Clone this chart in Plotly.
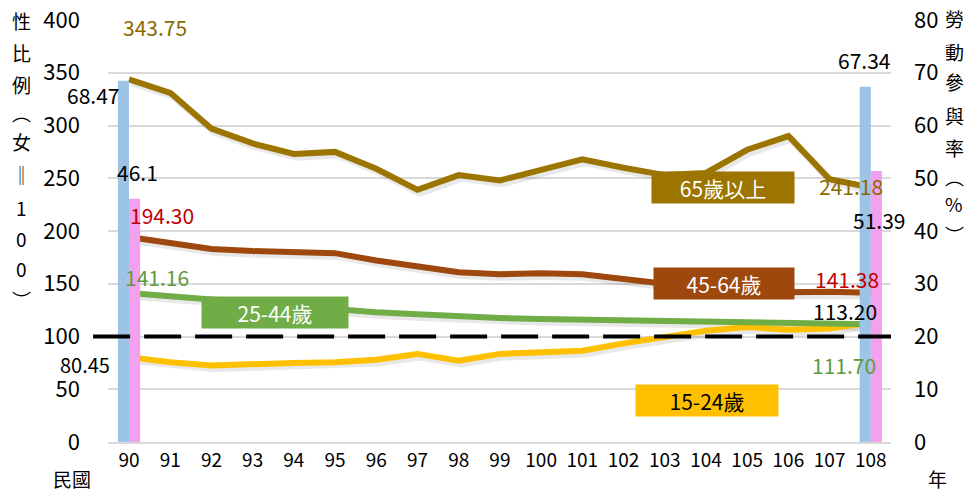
import plotly.graph_objects as go

years = list(range(90, 109))
year_labels = [str(y) for y in years]

age65 = [343.75, 331, 297, 283, 273, 275, 259, 239, 253, 248, 258, 268, 260, 253, 255, 277, 290, 249, 241.18]
age45 = [194.30, 189, 183, 181, 180, 179, 172, 166, 161, 159, 160, 159, 154, 150, 146, 143, 142, 142.5, 141.38]
age25 = [141.16, 138, 135, 132, 128, 125.5, 123, 121, 119, 117.5, 116.5, 116, 115, 114.5, 114, 113.5, 113, 112.5, 111.70]
age15 = [80.45, 75.7, 72.5, 74, 75, 75.5, 78, 83.5, 77, 83.5, 84.5, 86.5, 93.5, 100, 105.5, 109, 106.5, 107.5, 113.20]

bar_years = [90, 108]
male_lfpr = [68.47, 67.34]
female_lfpr = [46.1, 51.39]

C65 = "#9C7500"
C45 = "#9E480E"
C25 = "#70AD47"
C15 = "#FFC000"
BLUE = "#9DC3E6"
PINK = "#F3A1EE"

FONT = "Noto Sans CJK TC"

fig = go.Figure()

# bars on right axis
fig.add_trace(go.Bar(x=bar_years, y=male_lfpr, yaxis="y2", width=0.27, offset=-0.27,
                     marker=dict(color=BLUE, line=dict(width=0)), showlegend=False))
fig.add_trace(go.Bar(x=bar_years, y=female_lfpr, yaxis="y2", width=0.27, offset=0,
                     marker=dict(color=PINK, line=dict(width=0)), showlegend=False))

series = [(age15, C15), (age25, C25), (age45, C45), (age65, C65)]
# soft shadows
for vals, col in series:
    fig.add_trace(go.Scatter(x=[x + 0.06 for x in years], y=[v - 2.6 for v in vals], mode="lines",
                             line=dict(color="rgba(0,0,0,0.09)", width=8), showlegend=False,
                             hoverinfo="skip"))
for vals, col in series:
    fig.add_trace(go.Scatter(x=years, y=vals, mode="lines", line=dict(color=col, width=6),
                             showlegend=False))

# dashed reference line at 100
fig.add_shape(type="line", xref="paper", yref="y", x0=-0.019, x1=1.0, y0=100, y1=100,
              line=dict(color="black", width=4, dash="37px,14px"), layer="above")

fig.update_layout(
    width=974, height=495,
    margin=dict(l=108, r=83, t=20, b=53, autoexpand=False),
    paper_bgcolor="white", plot_bgcolor="white",
    font=dict(family=FONT, size=20, color="black"),
    barmode="overlay",
    xaxis=dict(range=[89.49, 108.49], tickmode="array", tickvals=years, ticktext=year_labels,
               showgrid=False, showline=True, linecolor="#D9D9D9", linewidth=2,
               ticks="", tickfont=dict(size=19), zeroline=False),
    yaxis=dict(range=[0, 400], tickvals=[0, 50, 100, 150, 200, 250, 300, 350, 400],
               showgrid=True, gridcolor="#D9D9D9", gridwidth=1.5, zeroline=False,
               ticks="", ticklabelstandoff=27, tickfont=dict(size=22)),
    yaxis2=dict(range=[0, 80], tickvals=[0, 10, 20, 30, 40, 50, 60, 70, 80], overlaying="y",
                side="right", showgrid=False, zeroline=False, ticks="",
                ticklabelstandoff=22, tickfont=dict(size=22)),
)

ann = []

W, H = 974, 495
def px(xp, yp, t, color="black", size=21, xanchor="center"):
    x = (xp - 108) / (W - 108 - 83)
    y = (H - 53 - yp) / (H - 20 - 53)
    ann.append(dict(xref="paper", yref="paper", x=x, y=y, text=t, showarrow=False,
                    font=dict(family=FONT, size=size, color=color), xanchor=xanchor,
                    yanchor="middle"))

# data labels
px(155, 27, "343.75", "#8B6A00")
px(93, 95, "68.47")
px(137, 172, "46.1")
px(162, 215, "194.30", "#C00000")
px(157, 277, "141.16", "#5E9A3C")
px(85, 364, "80.45", size=20)
px(864, 60, "67.34")
px(851, 186, "241.18", "#8B6A00")
px(879, 220, "51.39")
px(847, 279, "141.38", "#C00000")
px(845, 311, "113.20")
px(844, 365, "111.70", "#5E9A3C")

# x-axis side labels
px(72, 478, "民國", size=19)
px(938, 478, "年", size=19)

# vertical axis titles
left_chars = ["性", "比", "例", "︵", "女", "‖", "1", "0", "0", "︶"]
left_y = [20, 52, 84, 112, 141, 175, 207, 238, 268, 299]
for c, yv in zip(left_chars, left_y):
    px(21, yv, c, size=19)

right_chars = ["勞", "動", "參", "與", "率", "︵", "%", "︶"]
right_y = [18, 51, 82, 115, 147, 176, 204, 234]
for c, yv in zip(right_chars, right_y):
    px(954, yv, c, size=19)

# series name boxes
def box(xc, yc, t, bg, fg, w):
    x = (xc - 108) / (W - 108 - 83)
    y = (H - 53 - yc) / (H - 20 - 53)
    ann.append(dict(xref="paper", yref="paper", x=x, y=y, text=t, showarrow=False,
                    font=dict(family=FONT, size=21, color=fg), bgcolor=bg, width=w, height=25,
                    borderpad=3, xanchor="center", yanchor="middle"))

box(723, 187, "65歲以上", C65, "white", 136)
box(724, 283, "45-64歲", C45, "white", 134)
box(275, 312, "25-44歲", C25, "white", 140)
box(707, 400, "15-24歲", C15, "black", 136)

fig.update_layout(annotations=ann)

fig.write_html("out.html", config={"displayModeBar": False},
               post_script="document.body.style.margin='0';document.body.style.overflow='hidden';")
